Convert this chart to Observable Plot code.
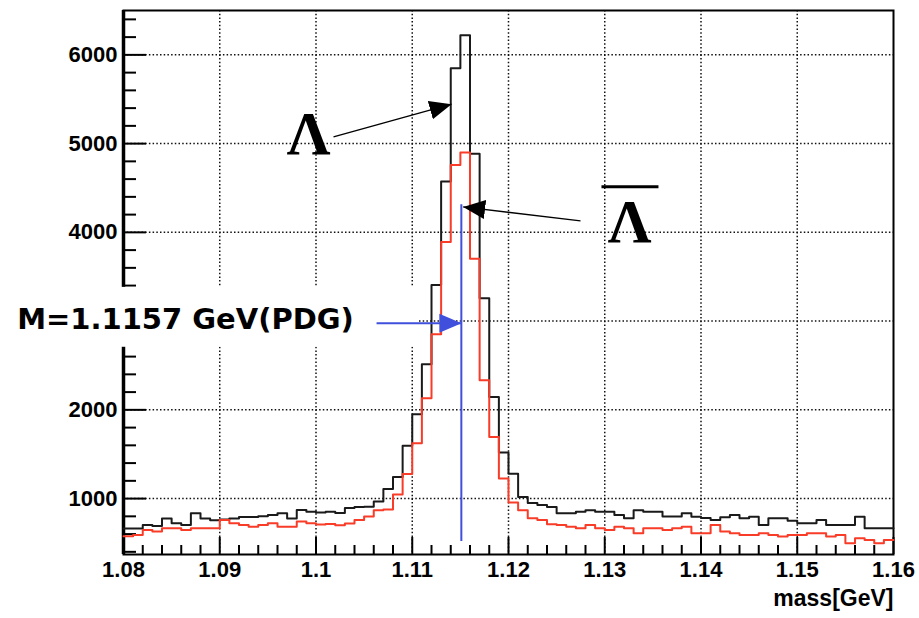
<!DOCTYPE html>
<html><head><meta charset="utf-8">
<script src="https://cdn.jsdelivr.net/npm/d3@7"></script>
<script src="https://cdn.jsdelivr.net/npm/@observablehq/plot@0.6"></script>
<style>body{margin:0;background:#fff;} #chart svg{display:block}</style>
</head><body><div id="chart"></div>
<script>
// histogram: 80 bins of 1 MeV from 1.08 to 1.16 GeV
const massLow = 1.08, binWidth = 0.001, nBins = 80;
const lambdaCounts = [662,662,703,692,775,722,703,835,775,756,
  765,775,793,793,800,816,835,775,872,853,
  844,853,838,895,906,908,966,1108,1244,1595,
  1950,2514,3408,4572,5850,6222,4887,3258,2146,1518,
  1281,1019,951,929,906,835,835,853,868,853,
  853,816,778,868,853,853,797,797,835,795,
  782,760,790,816,778,796,703,778,778,750,
  722,722,760,703,703,703,796,666,666,666];
const antiLambdaCounts = [575,590,647,628,666,666,647,666,666,666,
  760,722,703,684,703,722,684,684,741,722,
  707,715,700,720,758,797,868,878,1045,1278,
  1624,2131,2852,3892,4760,4899,3704,2334,1695,1225,
  955,868,778,760,711,703,684,666,703,666,
  647,684,666,609,666,666,647,666,684,609,
  609,703,628,609,590,590,609,590,572,590,
  590,609,609,572,590,497,553,534,497,534];

const xTicks = [1.08,1.09,1.10,1.11,1.12,1.13,1.14,1.15,1.16];
const xTickLabels = ["1.08","1.09","1.1","1.11","1.12","1.13","1.14","1.15","1.16"];
const yTicks = [1000,2000,4000,5000,6000];
const yTickLabels = ["1000","2000","4000","5000","6000"];
const yGrid = [1000,2000,3000,4000,5000,6000];
const xGrid = [1.09,1.10,1.11,1.12,1.13,1.14,1.15];
const yDomain = [370, 6500];
const xTitle = "mass[GeV]";

// annotations
const pdgLabel = [{text: "M=1.1157 GeV(PDG)", x: 1.08644, y: 3020}];
const labelBox = [{x1: 1.06722, x2: 1.11075, y1: 2705, y2: 3380}];
const pdgArrow = [{x1: 1.10629, x2: 1.1151, y: 2976}];
const pdgLine = [{x: 1.1151, y1: 523, y2: 4317}];
const pointerArrows = [
  {x1: 1.10182, y1: 5075, x2: 1.11408, y2: 5444},
  {x1: 1.12748, y1: 4129, x2: 1.11529, y2: 4287}
];
const lambdaLabels = [{text: "Λ", x: 1.09922, y: 5105}, {text: "Λ", x: 1.13257, y: 4112}];
const barLine = [{x1: 1.12966, x2: 1.13558, y: 4513}];

const edges = d3.range(nBins + 1).map(i => +(massLow + i * binWidth).toFixed(3));
const steps = counts => edges.map((e, i) => ({x: e, y: counts[Math.min(i, nBins - 1)]}));
const xMinor = d3.range(0, 41).map(i => +(1.08 + i * 0.002).toFixed(3)).filter(v => !xTicks.some(t => Math.abs(t - v) < 1e-9));
const yMinor = d3.range(400, 6500, 200).filter(v => v % 1000 !== 0);
const yMajor = [1000,2000,3000,4000,5000,6000];

const W = 919, H = 618, mL = 123, mR = 26, mT = 10, mB = 64;
const innerW = W - mL - mR, innerH = H - mT - mB;

const plot = Plot.plot({
  width: W, height: H,
  marginLeft: mL, marginRight: mR, marginTop: mT, marginBottom: mB,
  style: {fontFamily: "'Liberation Sans', Arial, sans-serif", fontSize: "22px", fontWeight: "bold", background: "#fff", color: "#000"},
  x: {domain: [1.08, 1.16], ticks: xTicks, tickFormat: d => xTickLabels[xTicks.findIndex(t => Math.abs(t - d) < 1e-9)], tickSize: 0, tickPadding: 7, label: null},
  y: {domain: yDomain, ticks: yTicks, tickFormat: d => yTickLabels[yTicks.indexOf(d)], tickSize: 0, tickPadding: 6, label: null},
  marks: [
    Plot.ruleX(xGrid, {x: d => d, stroke: "#111", strokeWidth: 1.5, strokeDasharray: "1.5,2.2"}),
    Plot.ruleY(yGrid, {y: d => d, stroke: "#111", strokeWidth: 1.5, strokeDasharray: "1.5,2.2"}),
    Plot.tickY(yMinor, {y: d => d, insetRight: innerW - 13, stroke: "#000", strokeWidth: 2}),
    Plot.tickY(yMajor, {y: d => d, insetRight: innerW - 23, stroke: "#000", strokeWidth: 2}),
    Plot.tickX(xMinor, {x: d => d, insetTop: innerH - 9, stroke: "#000", strokeWidth: 2}),
    Plot.tickX(xTicks, {x: d => d, insetTop: innerH - 17, stroke: "#000", strokeWidth: 2}),
    Plot.frame({stroke: "#000", strokeWidth: 2}),
    Plot.ruleX([1.08], {x: d => d, stroke: "#000", strokeWidth: 3.5}),
    Plot.line(steps(lambdaCounts), {x: "x", y: "y", curve: "step-after", stroke: "#1a1a1a", strokeWidth: 2}),
    Plot.line(steps(antiLambdaCounts), {x: "x", y: "y", curve: "step-after", stroke: "#f83c28", strokeWidth: 2}),
    Plot.rect(labelBox, {x1: "x1", x2: "x2", y1: "y1", y2: "y2", fill: "#fff"}),
    Plot.text(pdgLabel, {x: "x", y: "y", text: "text", fontFamily: "'DejaVu Sans', Verdana, sans-serif", fontWeight: "bold", fontSize: 29, fill: "#000", textAnchor: "middle"}),
    Plot.link(pdgArrow, {x1: "x1", x2: "x2", y1: "y", y2: "y", stroke: "#4050dc", strokeWidth: 2, markerEnd: "arrow"}),
    Plot.link(pdgLine, {x1: "x", x2: "x", y1: "y1", y2: "y2", stroke: "#4050dc", strokeWidth: 2}),
    Plot.link(pointerArrows, {x1: "x1", y1: "y1", x2: "x2", y2: "y2", stroke: "#000", strokeWidth: 1.3, markerEnd: "arrow"}),
    Plot.text(lambdaLabels, {x: "x", y: "y", text: "text", fontFamily: "'Liberation Serif', 'Times New Roman', serif", fontWeight: "bold", fontSize: 61, fill: "#000"}),
    Plot.link(barLine, {x1: "x1", x2: "x2", y1: "y", y2: "y", stroke: "#000", strokeWidth: 3}),
    Plot.text([xTitle], {frameAnchor: "bottom-right", text: d => d, textAnchor: "end", dy: 51, fontSize: 23, fontWeight: "bold", fill: "#000"})
  ]
});

// filled triangular arrowheads
d3.select(plot).selectAll("marker").each(function() {
  const m = d3.select(this);
  const c = m.attr("stroke");
  m.attr("viewBox", "-22 -10 22 20").attr("markerWidth", 22).attr("markerHeight", 20)
   .attr("markerUnits", "userSpaceOnUse").attr("fill", c).attr("stroke", "none");
  m.select("path").attr("d", "M-22,-9.5L0,0L-22,9.5Z");
});

document.getElementById("chart").appendChild(plot);
</script>
</body></html>
